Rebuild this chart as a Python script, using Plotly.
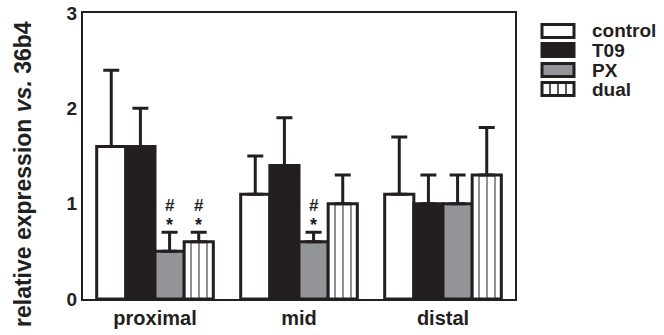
import plotly.graph_objects as go

categories = ["proximal", "mid", "distal"]
series_names = ["control", "T09", "PX", "dual"]
control = [1.6, 1.1, 1.1]
t09 = [1.6, 1.4, 1.0]
px = [0.5, 0.6, 1.0]
dual = [0.6, 1.0, 1.3]
err_control = [0.8, 0.4, 0.6]
err_t09 = [0.4, 0.5, 0.3]
err_px = [0.2, 0.1, 0.3]
err_dual = [0.1, 0.3, 0.5]
y_ticks = [0, 1, 2, 3]
y_title = "<b>relative expression <i>vs.</i> 36b4</b>"
# significance marks: (category index, series index)
sig_marks = [(0, 2), (0, 3), (1, 2)]

INK = "#231f20"
GRAY = "#939598"
FONT = "Liberation Sans"

W, H = 664, 335
ML, MR, MT, MB = 83, 149, 13, 36
PW, PH = W - ML - MR, H - MT - MB

values = [control, t09, px, dual]
errors = [err_control, err_t09, err_px, err_dual]
fills = ["white", INK, GRAY, "white"]

fig = go.Figure()
for i, name in enumerate(series_names):
    marker = dict(color=fills[i], line=dict(color=INK, width=3))
    if name == "dual":
        marker["pattern"] = dict(shape="|", fgcolor=INK, bgcolor="white", size=8, solidity=0.25)
    fig.add_trace(go.Bar(
        name=name, x=categories, y=values[i], marker=marker, showlegend=False,
        error_y=dict(type="data", array=errors[i], arrayminus=[0] * len(categories),
                     symmetric=False, color=INK, thickness=3, width=8),
    ))

bargap = 0.19
bw = (1 - bargap) / 4
for ci, si in sig_marks:
    xpos = ci - (1 - bargap) / 2 + bw * (si + 0.5)
    top = values[si][ci] + errors[si][ci]
    fig.add_annotation(x=xpos, y=top, text="<b>*</b>", showarrow=False, yanchor="middle",
                       yshift=7, font=dict(family=FONT, size=18, color=INK))
    fig.add_annotation(x=xpos, y=top, text="<b>#</b>", showarrow=False, yanchor="middle",
                       yshift=27, font=dict(family=FONT, size=17, color=INK))

def px2x(p):
    return (p - ML) / PW

def px2y(p):
    return (H - MB - p) / PH

# y-axis title as rotated text so its vertical position matches
fig.add_annotation(xref="paper", yref="paper", x=px2x(23), y=px2y(174),
                   xanchor="center", yanchor="middle", textangle=-90, showarrow=False,
                   text=y_title, font=dict(family=FONT, size=23, color=INK))

# legend (drawn in paper coordinates to match the wide swatches)
row_y = [31, 50, 70, 89]
for i, name in enumerate(series_names):
    cy = row_y[i]
    fig.add_shape(type="rect", xref="paper", yref="paper",
                  x0=px2x(542), x1=px2x(574), y0=px2y(cy + 6.5), y1=px2y(cy - 6.5),
                  fillcolor=fills[i], line=dict(color=INK, width=3))
    if name == "dual":
        for lx in (550, 558, 566):
            fig.add_shape(type="line", xref="paper", yref="paper",
                          x0=px2x(lx), x1=px2x(lx), y0=px2y(cy + 6.5), y1=px2y(cy - 6.5),
                          line=dict(color=INK, width=1.5))
    fig.add_annotation(xref="paper", yref="paper", x=px2x(590), y=px2y(cy),
                       xanchor="left", yanchor="middle", showarrow=False,
                       text="<b>" + name + "</b>",
                       font=dict(family=FONT, size=19, color=INK))

fig.update_layout(
    width=W, height=H,
    margin=dict(l=ML, r=MR, t=MT, b=MB),
    plot_bgcolor="white", paper_bgcolor="white",
    barmode="group", bargap=bargap, bargroupgap=0,
    font=dict(family=FONT, color=INK, size=16),
    showlegend=False,
    xaxis=dict(range=[-0.5, 2.5], showline=True, linecolor=INK, linewidth=2, mirror=True,
               ticks="", automargin=False,
               tickfont=dict(family=FONT, size=20, color=INK, weight="bold")),
    yaxis=dict(range=[0, 3], tickvals=y_ticks, showline=True, linecolor=INK, linewidth=2,
               mirror=True, showgrid=False, zeroline=False, ticks="", automargin=False,
               tickfont=dict(family=FONT, size=19, color=INK, weight="bold")),
)

fig.write_html("out.html", config={"displayModeBar": False},
               post_script="document.body.style.margin='0';document.body.style.overflow='hidden';")
